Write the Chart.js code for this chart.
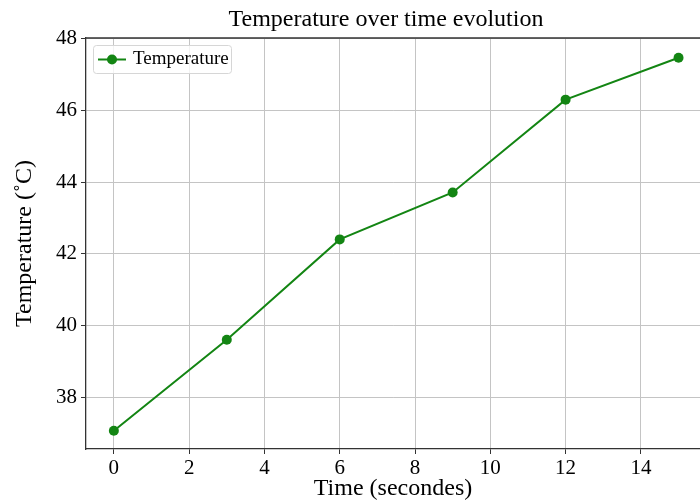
<!DOCTYPE html>
<html>
<head>
<meta charset="utf-8">
<script src="https://cdn.jsdelivr.net/npm/chart.js@4/dist/chart.umd.min.js"></script>
<style>
  html, body { margin: 0; padding: 0; background: #fff; }
  #wrap { width: 700px; height: 503px; }
</style>
</head>
<body>
<div id="wrap"><canvas id="chart" width="700" height="503"></canvas></div>
<script>
const timeSeconds = [0, 3, 6, 9, 12, 15];
const temperature = [37.06, 39.6, 42.4, 43.71, 46.3, 47.47];
const xTicks = [0, 2, 4, 6, 8, 10, 12, 14];
const yTicks = [38, 40, 42, 44, 46, 48];

const serif = "'Liberation Serif', 'DejaVu Serif', serif";
const lineGreen = "#138513";

// title, top spine and framed legend inside the axes
const decor = {
  id: "decor",
  afterDraw(chart) {
    const { ctx, chartArea: a } = chart;
    ctx.save();
    ctx.fillStyle = "#000";
    ctx.font = "24px " + serif;
    ctx.textAlign = "center";
    ctx.textBaseline = "alphabetic";
    ctx.fillText("Temperature over time evolution", 386, 26);

    ctx.strokeStyle = "#333";
    ctx.lineWidth = 1.3;
    ctx.beginPath();
    ctx.moveTo(a.left, a.top);
    ctx.lineTo(a.right, a.top);
    ctx.stroke();

    // legend
    const bx = a.left + 7, by = a.top + 7, bw = 138, bh = 28;
    ctx.fillStyle = "rgba(255,255,255,0.8)";
    ctx.strokeStyle = "#d6d6d6";
    ctx.lineWidth = 1;
    ctx.beginPath();
    ctx.roundRect(bx + 0.5, by + 0.5, bw, bh, 3);
    ctx.fill();
    ctx.stroke();
    const ly = by + bh / 2 + 0.5;
    ctx.strokeStyle = lineGreen;
    ctx.lineWidth = 2;
    ctx.beginPath();
    ctx.moveTo(bx + 5, ly);
    ctx.lineTo(bx + 33, ly);
    ctx.stroke();
    ctx.fillStyle = lineGreen;
    ctx.beginPath();
    ctx.arc(bx + 19, ly, 5, 0, Math.PI * 2);
    ctx.fill();
    ctx.fillStyle = "#000";
    ctx.font = "19px " + serif;
    ctx.textAlign = "left";
    ctx.textBaseline = "middle";
    ctx.fillText("Temperature", bx + 40, ly);
    ctx.restore();
  }
};

new Chart(document.getElementById("chart"), {
  type: "line",
  data: {
    datasets: [
      {
        label: "Temperature",
        data: timeSeconds.map((t, i) => ({ x: t, y: temperature[i] })),
        borderColor: lineGreen,
        backgroundColor: lineGreen,
        borderWidth: 2,
        pointRadius: 5,
        pointBorderWidth: 0,
        tension: 0
      }
    ]
  },
  options: {
    responsive: false,
    animation: false,
    layout: { autoPadding: false, padding: { top: 38, right: 0, left: 0, bottom: 0 } },
    plugins: {
      legend: { display: false },
      title: { display: false },
      tooltip: { enabled: false }
    },
    scales: {
      x: {
        type: "linear",
        min: -0.74,
        max: 15.57,
        afterBuildTicks: (s) => { s.ticks = xTicks.map((v) => ({ value: v })); },
        afterFit: (s) => { s.height = 54; s.paddingLeft = 0; s.paddingRight = 0; },
        grid: { color: "#c4c4c4", lineWidth: 1, tickColor: "#333", tickLength: 5 },
        border: { color: "#333", width: 1.3 },
        ticks: { color: "#000", font: { family: serif, size: 21 }, padding: 2, maxRotation: 0 },
        title: {
          display: true,
          text: "Time (secondes)",
          color: "#000",
          font: { family: serif, size: 24 },
          padding: { top: 0, bottom: 0 }
        }
      },
      y: {
        min: 36.55,
        max: 48.02,
        afterBuildTicks: (s) => { s.ticks = yTicks.map((v) => ({ value: v })); },
        afterFit: (s) => { s.width = 86; s.paddingTop = 0; s.paddingBottom = 0; },
        grid: { color: "#c4c4c4", lineWidth: 1, tickColor: "#333", tickLength: 5 },
        border: { color: "#333", width: 1.3 },
        ticks: { color: "#000", font: { family: serif, size: 21 }, padding: 4 },
        title: {
          display: true,
          text: "Temperature (˚C)",
          color: "#000",
          font: { family: serif, size: 24 },
          padding: { top: 10, bottom: 0 }
        }
      }
    }
  },
  plugins: [decor]
});
</script>
</body>
</html>
